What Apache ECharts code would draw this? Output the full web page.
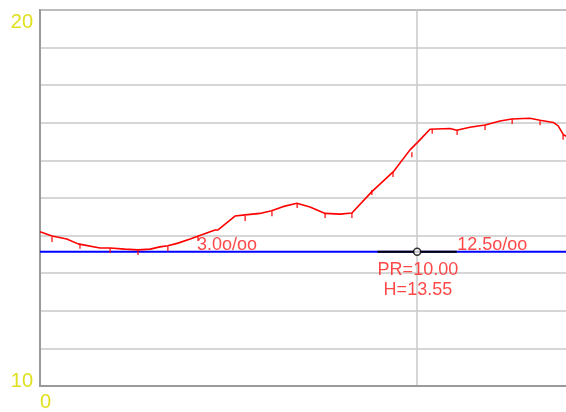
<!DOCTYPE html>
<html>
<head>
<meta charset="utf-8">
<script src="https://cdn.jsdelivr.net/npm/echarts@6/dist/echarts.min.js"></script>
<style>
html,body{margin:0;padding:0;background:#fff;}
#c{width:566px;height:412px;}
</style>
</head>
<body>
<div id="c"></div>
<script>
// Curve (PR, H)
const curveX = [0, 0.32, 0.71, 1.01, 1.59, 1.86, 2.25, 2.60, 2.92, 3.18, 3.39, 3.66, 3.98, 4.29, 4.64, 4.72, 5.17, 5.44, 5.83, 6.14, 6.44, 6.81, 7.16, 7.56, 7.96, 8.27, 8.80, 9.37, 9.81, 10.03, 10.34, 10.87, 11.05, 11.40, 11.80, 12.20, 12.51, 12.99, 13.26, 13.61, 13.74, 13.88, 14.0];
const curveY = [14.10, 13.99, 13.91, 13.78, 13.67, 13.67, 13.64, 13.62, 13.64, 13.70, 13.73, 13.80, 13.91, 14.02, 14.15, 14.15, 14.52, 14.55, 14.59, 14.66, 14.77, 14.86, 14.76, 14.59, 14.57, 14.60, 15.17, 15.70, 16.28, 16.50, 16.83, 16.85, 16.80, 16.88, 16.94, 17.05, 17.10, 17.12, 17.07, 17.01, 16.92, 16.68, 16.62];
// Measured points (tick marks)
const markX = [0.32, 1.06, 1.86, 2.60, 3.39, 4.19, 5.44, 6.15, 6.82, 7.56, 8.27, 8.80, 9.36, 9.86, 10.40, 11.06, 11.80, 12.52, 13.26, 13.87];
const markY = [13.96, 13.78, 13.67, 13.62, 13.72, 13.99, 14.52, 14.65, 14.87, 14.60, 14.60, 15.21, 15.69, 16.22, 16.84, 16.81, 16.94, 17.10, 17.07, 16.68];
// Horizontal reference level
const levelH = 13.57;
const levelRange = [0, 14];
// Cursor
const cursorPR = 10.0;
const cursorHalfWidth = 1.05;
// Annotations [x, y, text]
const annotX = [4.96, 11.99, 10.02, 10.02];
const annotY = [13.74, 13.76, 13.085, 12.553];
const annotText = ['3.0o/oo', '12.5o/oo', 'PR=10.00', 'H=13.55'];
const yTickLabels = [10, 20];
const xTickLabels = [0];

const chart = echarts.init(document.getElementById('c'), null, {renderer: 'canvas'});
const gridColor = '#c8c8c8';
const font = 'Liberation Sans, Arial, sans-serif';
const option = {
  animation: false,
  backgroundColor: '#ffffff',
  grid: {left: 40, width: 528, top: 10, height: 376, outerBoundsMode: 'none', containLabel: false,
         show: true, borderColor: '#9a9a9a', borderWidth: 2, backgroundColor: 'transparent'},
  xAxis: {
    type: 'value', min: 0, max: 14, interval: 10,
    axisLine: {show: true, lineStyle: {color: '#9a9a9a', width: 2}},
    axisTick: {show: false},
    splitLine: {show: true, lineStyle: {color: gridColor, width: 1.5}},
    axisLabel: {
      color: '#e0e020', fontSize: 20, fontFamily: font,
      margin: 6, align: 'left',
      formatter: v => xTickLabels.includes(v) ? String(v) : ''
    }
  },
  yAxis: {
    type: 'value', min: 10, max: 20, interval: 1,
    axisLine: {show: true, lineStyle: {color: '#9a9a9a', width: 2}},
    axisTick: {show: false},
    splitLine: {show: true, lineStyle: {color: gridColor, width: 1.5}},
    axisLabel: {
      color: '#e0e020', fontSize: 20, fontFamily: font,
      margin: 7,
      formatter: v => {
        if (!yTickLabels.includes(v)) return '';
        return v === 20 ? '{t|' + v + '}' : '{b|' + v + '}';
      },
      rich: {
        t: {color: '#e0e020', fontSize: 20, fontFamily: font, padding: [25, 0, 0, 0]},
        b: {color: '#e0e020', fontSize: 20, fontFamily: font, padding: [0, 0, 9, 0]}
      }
    }
  },
  series: [
    {
      type: 'line', name: 'level', silent: true, symbol: 'none',
      data: levelRange.map(x => [x, levelH]),
      lineStyle: {color: '#0000ff', width: 2}, z: 3
    },
    {
      type: 'line', name: 'cursor', silent: true, symbol: 'none',
      data: [[cursorPR - cursorHalfWidth, levelH], [cursorPR + cursorHalfWidth, levelH]],
      lineStyle: {color: '#000000', width: 2}, z: 4
    },
    {
      type: 'line', name: 'curve', silent: true, symbol: 'none',
      data: curveX.map((x, i) => [x, curveY[i]]),
      lineStyle: {color: '#ff0000', width: 1.6}, z: 5
    },
    {
      type: 'scatter', name: 'marks', silent: true,
      symbol: 'rect', symbolSize: [1.5, 5], symbolOffset: [0, 2.5],
      itemStyle: {color: '#ff0000'},
      data: markX.map((x, i) => [x, markY[i]]), z: 6
    },
    {
      type: 'scatter', name: 'cursorPoint', silent: true,
      symbol: 'circle', symbolSize: 7,
      itemStyle: {color: '#ffffff', borderColor: '#000000', borderWidth: 1.5},
      data: [[cursorPR, levelH]], z: 7
    },
    {
      type: 'scatter', name: 'annot', silent: true,
      symbol: 'circle', symbolSize: 2,
      itemStyle: {color: 'rgba(255,255,255,0)'},
      labelLayout: {hideOverlap: false},
      data: annotX.map((x, i) => ({value: [x, annotY[i]], name: annotText[i]})),
      label: {
        show: true, position: 'inside', formatter: p => p.name,
        color: '#ff1a1a', fontSize: 18, fontFamily: font
      },
      z: 8
    }
  ]
};
chart.setOption(option);
</script>
</body>
</html>
